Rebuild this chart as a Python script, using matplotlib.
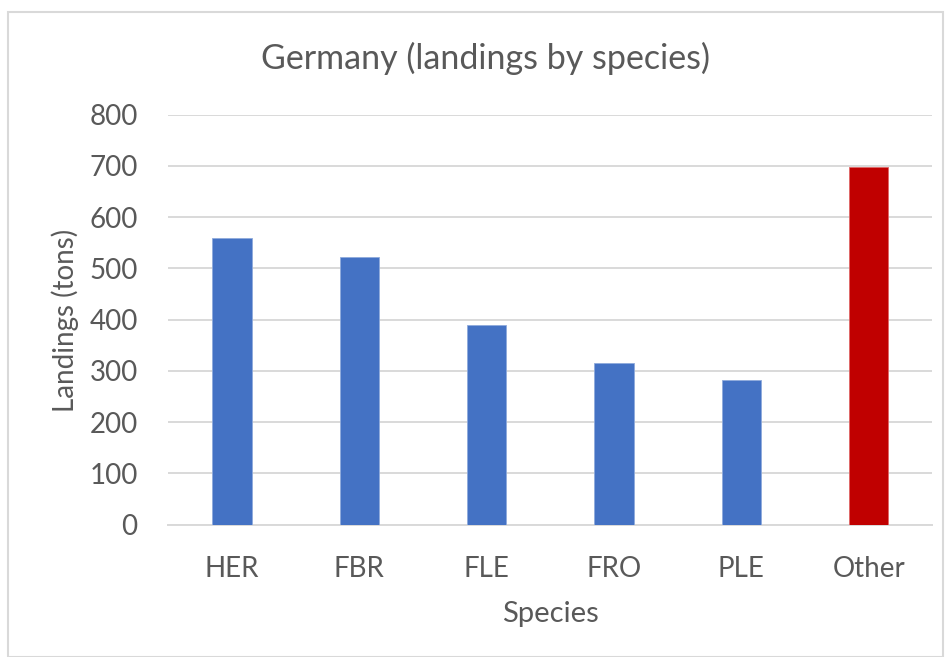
import matplotlib
matplotlib.use("Agg")
import matplotlib.pyplot as plt
from matplotlib.patches import Rectangle

species = ["HER", "FBR", "FLE", "FRO", "PLE", "Other"]
landings = [560, 522, 390, 315, 282, 697]
bar_colors = ["#4472C4", "#4472C4", "#4472C4", "#4472C4", "#4472C4", "#C00000"]
yticks = [0, 100, 200, 300, 400, 500, 600, 700, 800]

W, H = 947, 657
plt.rcParams['font.family'] = ['Lato', 'DejaVu Sans']
txt = "#595959"

fig = plt.figure(figsize=(W/100, H/100), dpi=100)
fig.patch.set_facecolor("white")
# chart border
fig.patches.append(Rectangle((8/W, 0), (943-8)/W, 1-12/H, transform=fig.transFigure,
                             fill=False, edgecolor="#d9d9d9", linewidth=1.5))

ax = fig.add_axes([168.3/W, 1-524.7/H, (932.3-168.3)/W, (524.7-114.7)/H])
x = list(range(len(species)))
edge = ["#8faadc" if c == "#4472C4" else "#e06666" for c in bar_colors]
ax.bar(x, landings, width=0.31, color=bar_colors, edgecolor=edge, linewidth=0.6, zorder=3)
ax.set_xlim(-0.5, len(species)-0.5)
ax.set_ylim(0, 800)
ax.set_yticks(yticks)
ax.set_xticks(x)
ax.set_xticklabels(species)
ax.grid(axis='y', color="#d9d9d9", linewidth=1.4, zorder=0)
for s in ["top", "right", "left"]:
    ax.spines[s].set_visible(False)
ax.spines["bottom"].set_color("#d9d9d9")
ax.spines["bottom"].set_linewidth(1.4)
ax.tick_params(axis='both', length=0, labelsize=20, labelcolor=txt)
ax.tick_params(axis='y', pad=22)
ax.tick_params(axis='x', pad=22.5)

fig.text(485/W, 1-58/H, "Germany (landings by species)", ha='center', va='center', fontsize=24.5, color=txt)
fig.text(65/W, 1-320/H, "Landings (tons)", ha='center', va='center', rotation=90, fontsize=20, color=txt)
fig.text(550/W, 1-614/H, "Species", ha='center', va='center', fontsize=21, color=txt)

fig.savefig("out.png", dpi=100)
